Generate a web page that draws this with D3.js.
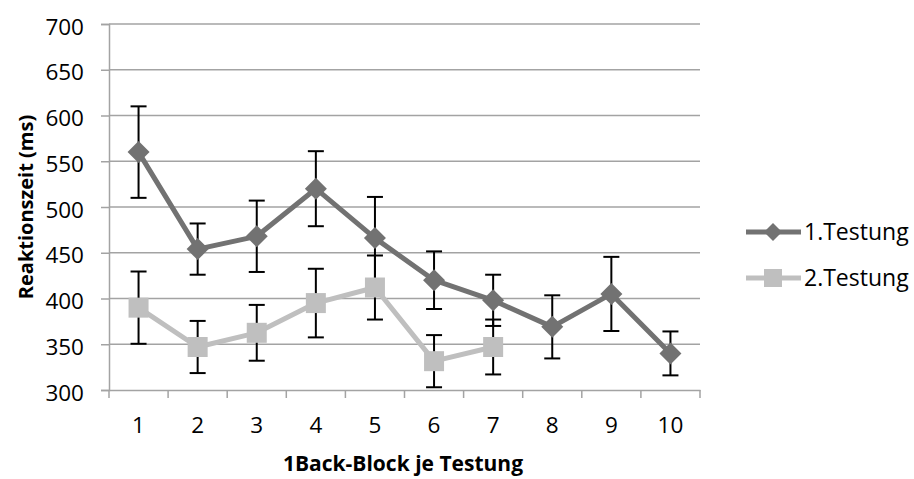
<!DOCTYPE html>
<html>
<head>
<meta charset="utf-8">
<script src="https://cdn.jsdelivr.net/npm/d3@7"></script>
<style>
  html, body { margin: 0; padding: 0; background: #fff; }
  svg { display: block; }
  text { font-family: "Open Sans", "Liberation Sans", sans-serif; fill: #000; }
</style>
</head>
<body>
<script>
// ---- data ----
const categories = ["1", "2", "3", "4", "5", "6", "7", "8", "9", "10"];
const series1Name = "1.Testung";
const series1Values = [560, 454, 468, 520, 466, 420, 398, 369, 405, 340];
const series1Errors = [50, 28, 39, 41, 45, 31.5, 28, 34.5, 40.5, 24];
const series2Name = "2.Testung";
const series2Values = [390, 347, 362.5, 395, 412, 331.5, 347];
const series2Errors = [39.5, 28.5, 30.5, 37.5, 35, 28.5, 30];
const yTicks = [300, 350, 400, 450, 500, 550, 600, 650, 700];
const yTitle = "Reaktionszeit (ms)";
const xTitle = "1Back-Block je Testung";

// ---- layout ----
const W = 914, H = 479;
const plot = { left: 109, right: 700, top: 24, bottom: 390 };
const c1 = "#727272", c2 = "#bfbfbf", gridC = "#a3a3a3";
const tickFont = 22.5;

const svg = d3.select("body").append("svg").attr("width", W).attr("height", H);

const x = d3.scaleBand().domain(categories).range([plot.left, plot.right]).padding(0);
const y = d3.scaleLinear().domain([300, 700]).range([plot.bottom, plot.top]);
const cx = d => x(d) + x.bandwidth() / 2;

// gridlines
svg.append("g").selectAll("line").data(yTicks.filter(t => t !== 300)).join("line")
  .attr("x1", plot.left).attr("x2", plot.right)
  .attr("y1", d => y(d)).attr("y2", d => y(d))
  .attr("stroke", gridC).attr("stroke-width", 1.5);

// y axis
const yAxis = d3.axisLeft(y).tickValues(yTicks).tickSize(8).tickPadding(17).tickFormat(d3.format("d"));
const gy = svg.append("g").attr("transform", `translate(${plot.left},0)`).call(yAxis);
gy.select(".domain").attr("stroke", gridC).attr("stroke-width", 1.5);
gy.selectAll(".tick line").attr("stroke", gridC).attr("stroke-width", 1.5);
gy.selectAll(".tick text").attr("font-size", tickFont).attr("fill", "#000")
  .style("font-family", "'Open Sans', sans-serif").attr("y", 3);

// x axis
const gx = svg.append("g").attr("transform", `translate(0,${plot.bottom})`)
  .call(d3.axisBottom(x).tickSize(0).tickPadding(27));
gx.select(".domain").attr("stroke", gridC).attr("stroke-width", 1.5);
gx.selectAll(".tick text").attr("font-size", tickFont).attr("fill", "#000")
  .style("font-family", "'Open Sans', sans-serif");
// boundary ticks between categories
const bounds = categories.map(c => x(c)).concat([plot.right]);
svg.append("g").selectAll("line").data(bounds).join("line")
  .attr("x1", d => d).attr("x2", d => d)
  .attr("y1", plot.bottom).attr("y2", plot.bottom + 8)
  .attr("stroke", gridC).attr("stroke-width", 1.5);

// error bars (under markers)
function errorBars(vals, errs) {
  const g = svg.append("g").attr("stroke", "#000").attr("stroke-width", 2);
  vals.forEach((v, i) => {
    const xc = cx(categories[i]);
    const e = errs[i];
    g.append("line").attr("x1", xc).attr("x2", xc).attr("y1", y(v + e)).attr("y2", y(v - e));
    g.append("line").attr("x1", xc - 8).attr("x2", xc + 8).attr("y1", y(v + e)).attr("y2", y(v + e));
    g.append("line").attr("x1", xc - 8).attr("x2", xc + 8).attr("y1", y(v - e)).attr("y2", y(v - e));
  });
}
errorBars(series1Values, series1Errors);
errorBars(series2Values, series2Errors);

const line = d3.line().x((d, i) => cx(categories[i])).y(d => y(d));

// series 1
svg.append("path").datum(series1Values).attr("d", line)
  .attr("fill", "none").attr("stroke", c1).attr("stroke-width", 5).attr("stroke-linejoin", "round");
const diamond = s => `M0,${-s}L${s},0L0,${s}L${-s},0Z`;
svg.append("g").selectAll("path").data(series1Values).join("path")
  .attr("d", diamond(11))
  .attr("transform", (d, i) => `translate(${cx(categories[i])},${y(d)})`)
  .attr("fill", c1);

// series 2
svg.append("path").datum(series2Values).attr("d", line)
  .attr("fill", "none").attr("stroke", c2).attr("stroke-width", 5).attr("stroke-linejoin", "round");
svg.append("g").selectAll("rect").data(series2Values).join("rect")
  .attr("x", (d, i) => cx(categories[i]) - 10).attr("y", d => y(d) - 10)
  .attr("width", 20).attr("height", 20).attr("fill", c2);

// axis titles
svg.append("text").attr("transform", `translate(33,${(plot.top + plot.bottom) / 2}) rotate(-90)`)
  .attr("text-anchor", "middle").attr("font-size", 20).attr("font-weight", "bold").text(yTitle);
svg.append("text").attr("x", 403).attr("y", 471)
  .attr("text-anchor", "middle").attr("font-size", 21).attr("font-weight", "bold").text(xTitle);

// legend
const legend = [
  { name: series1Name, color: c1, shape: "diamond", y: 232 },
  { name: series2Name, color: c2, shape: "square", y: 278 }
];
legend.forEach(l => {
  svg.append("line").attr("x1", 746).attr("x2", 801).attr("y1", l.y).attr("y2", l.y)
    .attr("stroke", l.color).attr("stroke-width", 5);
  if (l.shape === "diamond") {
    svg.append("path").attr("d", diamond(9)).attr("transform", `translate(773,${l.y})`).attr("fill", l.color);
  } else {
    svg.append("rect").attr("x", 764).attr("y", l.y - 9).attr("width", 18).attr("height", 18).attr("fill", l.color);
  }
  svg.append("text").attr("x", 804).attr("y", l.y).attr("dy", "0.35em")
    .attr("font-size", 23).text(l.name);
});
</script>
</body>
</html>
